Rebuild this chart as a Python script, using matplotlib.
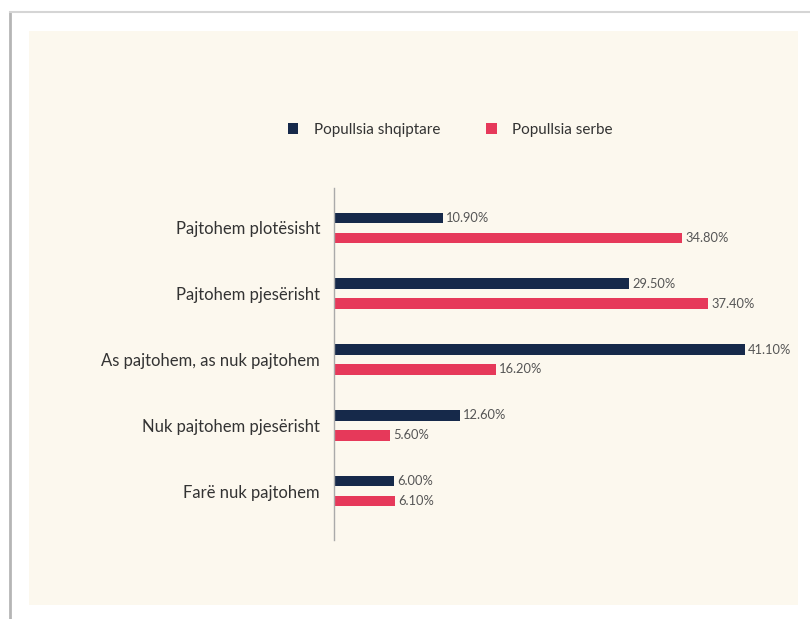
import matplotlib.pyplot as plt
import numpy as np
from matplotlib.patches import Rectangle
from matplotlib.lines import Line2D

categories = ['Pajtohem plotësisht', 'Pajtohem pjesërisht', 'As pajtohem, as nuk pajtohem',
              'Nuk pajtohem pjesërisht', 'Farë nuk pajtohem']
shqiptare = [10.9, 29.5, 41.1, 12.6, 6.0]
serbe = [34.8, 37.4, 16.2, 5.6, 6.1]
series_names = ['Popullsia shqiptare', 'Popullsia serbe']

navy = '#16294a'
red = '#e6395a'
beige = '#fcf8ee'
plt.rcParams['font.family'] = ['Lato', 'DejaVu Sans']

fig = plt.figure(figsize=(8.1, 6.19), dpi=100)
fig.patch.set_facecolor('white')

W, H = 810, 619
# outer frame lines + beige panel
fig.add_artist(Line2D([10 / W, 10 / W], [0, 1 - 12 / H], color='#b5b5b5', lw=2))
fig.add_artist(Line2D([10 / W, 1], [1 - 12 / H, 1 - 12 / H], color='#d5d5d5', lw=1.5))
fig.add_artist(Rectangle((29 / W, 1 - 605 / H), (798 - 29) / W, (605 - 31) / H,
                         facecolor=beige, edgecolor='none', zorder=0))

ax = fig.add_axes([334 / W, 1 - 540 / H, 450 / W, (540 - 188) / H])
ax.set_facecolor('none')

y = np.arange(len(categories))
off = 0.152
h = 0.16
ax.barh(y - off, shqiptare, height=h, color=navy, label=series_names[0])
ax.barh(y + off, serbe, height=h, color=red, label=series_names[1])

for yi, v in zip(y - off, shqiptare):
    ax.text(v + 0.3, yi, f'{v:.2f}%', va='center', ha='left', fontsize=9.3, color='#555555')
for yi, v in zip(y + off, serbe):
    ax.text(v + 0.3, yi, f'{v:.2f}%', va='center', ha='left', fontsize=9.3, color='#555555')

ax.set_xlim(0, 45)
ax.set_ylim(4.745, -0.608)
ax.set_yticks(y)
ax.set_yticklabels(categories, fontsize=12, color='#333333')
ax.set_xticks([])
ax.tick_params(axis='y', length=0, pad=10)
for s in ['top', 'right', 'bottom']:
    ax.spines[s].set_visible(False)
ax.spines['left'].set_color('#aaaaaa')
ax.spines['left'].set_linewidth(1)

leg = fig.legend(loc='center', bbox_to_anchor=(450 / W, 1 - 130 / H), ncol=2, frameon=False,
                 fontsize=11, handlelength=0.7, handleheight=0.7, columnspacing=3.0,
                 handletextpad=1.0, labelcolor='#333333')

fig.savefig('out.png', dpi=100, facecolor='white')
